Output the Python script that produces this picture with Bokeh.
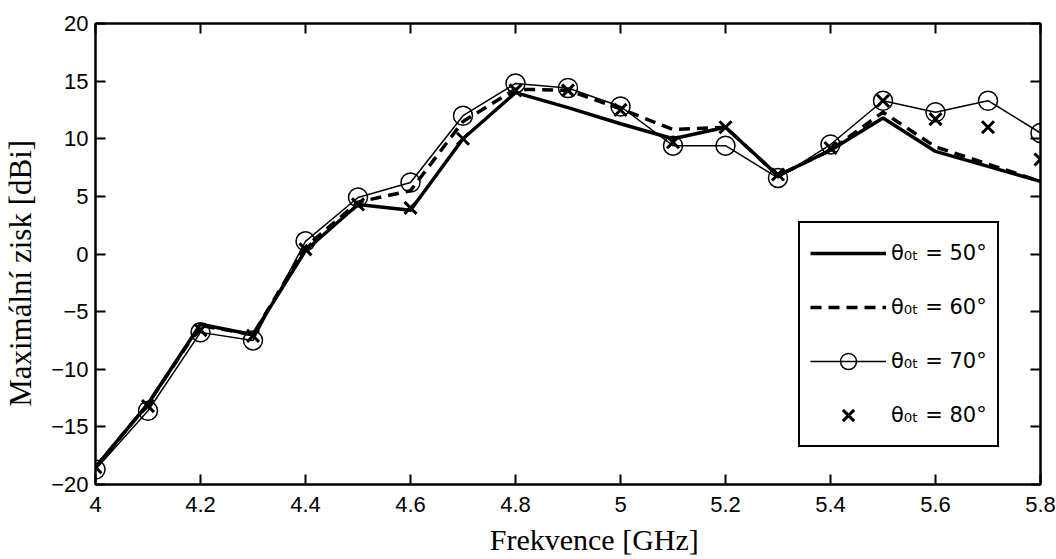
from bokeh.plotting import figure
from bokeh.models import Range1d, LinearAxis, Legend, LegendItem, FixedTicker
from bokeh.embed import file_html
from bokeh.resources import INLINE

freq = [4.0, 4.1, 4.2, 4.3, 4.4, 4.5, 4.6, 4.7, 4.8, 4.9, 5.0, 5.1, 5.2, 5.3, 5.4, 5.5, 5.6, 5.7, 5.8]
gain_50 = [-18.5, -13.0, -6.1, -7.0, 0.3, 4.3, 3.8, 10.0, 14.0, 12.7, 11.3, 10.0, 11.0, 6.8, 9.0, 11.8, 8.9, 7.6, 6.3]
gain_60 = [-18.5, -13.0, -6.2, -7.0, 0.6, 4.5, 5.5, 11.5, 14.3, 14.2, 12.6, 10.8, 11.0, 6.8, 9.0, 12.3, 9.3, 7.8, 6.3]
gain_70 = [-18.7, -13.6, -6.8, -7.5, 1.1, 4.9, 6.2, 12.0, 14.8, 14.4, 12.8, 9.4, 9.4, 6.6, 9.5, 13.3, 12.3, 13.3, 10.5]
gain_80 = [-18.5, -13.2, -6.6, -7.1, 0.4, 4.3, 4.0, 10.0, 14.2, 14.2, 12.5, 9.7, 11.0, 6.9, 9.2, 13.3, 11.7, 11.0, 8.2]
labels = ["\u03b8\u2080\u209c = 50\u00b0", "\u03b8\u2080\u209c = 60\u00b0", "\u03b8\u2080\u209c = 70\u00b0", "\u03b8\u2080\u209c = 80\u00b0"]
x_ticks = [4.0, 4.2, 4.4, 4.6, 4.8, 5.0, 5.2, 5.4, 5.6, 5.8]
y_ticks = [-20, -15, -10, -5, 0, 5, 10, 15, 20]
x_title = "Frekvence [GHz]"
y_title = "Maximální zisk [dBi]"

p = figure(width=1056, height=559, output_backend="svg", toolbar_location=None,
           x_range=Range1d(4.0, 5.8), y_range=Range1d(-20, 20),
           min_border_left=95, min_border_right=16, min_border_top=23, min_border_bottom=75)
p.grid.visible = False
p.outline_line_color = "black"
p.outline_line_width = 2

def style_axis(ax, show_labels=True):
    ax.axis_line_color = "black"
    ax.axis_line_width = 2
    ax.major_tick_in = 10
    ax.major_tick_out = 0
    ax.major_tick_line_width = 2
    ax.minor_tick_line_color = None
    ax.major_label_text_font = "Liberation Sans"
    ax.major_label_text_font_size = "22px"
    ax.major_label_text_color = "black"
    if not show_labels:
        ax.major_label_text_font_size = "0px"
        ax.major_label_standoff = 0

p.xaxis.ticker = FixedTicker(ticks=x_ticks)
p.yaxis.ticker = FixedTicker(ticks=y_ticks)
p.xaxis.major_label_overrides = {4.0: "4", 5.0: "5"}
style_axis(p.xaxis[0])
style_axis(p.yaxis[0])
pad = "\u00a0"
p.xaxis.axis_label = pad * 7 + x_title
p.yaxis.axis_label = y_title + pad * 5
for ax in (p.xaxis[0], p.yaxis[0]):
    ax.axis_label_text_font = "Liberation Serif"
    ax.axis_label_text_font_style = "normal"
    ax.axis_label_text_color = "black"
    ax.axis_label_text_line_height = 0.9
p.xaxis.axis_label_text_font_size = "30px"
p.yaxis.axis_label_text_font_size = "31px"
p.xaxis.axis_label_standoff = 8
p.yaxis.axis_label_standoff = 10
p.xaxis.major_label_standoff = 12
p.yaxis.major_label_standoff = 7

top = LinearAxis(ticker=FixedTicker(ticks=x_ticks))
style_axis(top, False)
p.add_layout(top, "above")
right = LinearAxis(ticker=FixedTicker(ticks=y_ticks))
style_axis(right, False)
p.add_layout(right, "right")

r50 = p.line(freq, gain_50, line_color="black", line_width=3.5)
r60 = p.line(freq, gain_60, line_color="black", line_width=3.5, line_dash="11 7")
r70l = p.line(freq, gain_70, line_color="black", line_width=1.5)
r70m = p.scatter(freq, gain_70, marker="circle", size=19, fill_color=None, line_color="black", line_width=1.5)
r80 = p.scatter(freq, gain_80, marker="x", size=17, line_color="black", line_width=3)

legend = Legend(items=[
    LegendItem(label=labels[0], renderers=[r50]),
    LegendItem(label=labels[1], renderers=[r60]),
    LegendItem(label=labels[2], renderers=[r70l, r70m]),
    LegendItem(label=labels[3], renderers=[r80]),
], location=(703, 37))
legend.border_line_color = "black"
legend.border_line_alpha = 1
legend.border_line_width = 2
legend.background_fill_alpha = 1
legend.label_text_font = "DejaVu Sans"
legend.label_text_font_size = "21px"
legend.label_text_color = "black"
legend.glyph_width = 76
legend.glyph_height = 40
legend.label_height = 40
legend.spacing = 14
legend.padding = 10
legend.margin = 0
legend.label_standoff = 5
p.add_layout(legend, "center")

open("out.html", "w").write(file_html(p, INLINE))
